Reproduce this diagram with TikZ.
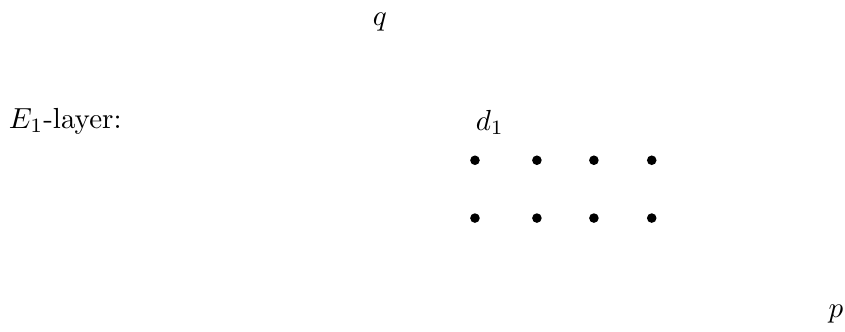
\documentclass[tikz,border=0pt]{standalone}
\tikzset{gdot/.style={circle, fill=black, inner sep=0pt, minimum size=3.3pt}}
\begin{document}
\begin{tikzpicture}
\useasboundingbox (0,0) rectangle (10.23,4.01);
% Axis labels
\node (q) at (4.60,3.74) {$q$};
\node (p) at (10.12,0.21) {$p$};

% Layer label
\node[anchor=west, inner sep=0pt] (layer) at (0.10,2.54) {$E_1$-layer:};

% Differential label
\node (d1) at (5.93,2.53) {$d_1$};

% Classes
\foreach \x [count=\i] in {5.75,6.50,7.19,7.89} {
  \node[gdot] (top\i) at (\x,2.07) {};
  \node[gdot] (bot\i) at (\x,1.37) {};
}
\end{tikzpicture}
\end{document}
